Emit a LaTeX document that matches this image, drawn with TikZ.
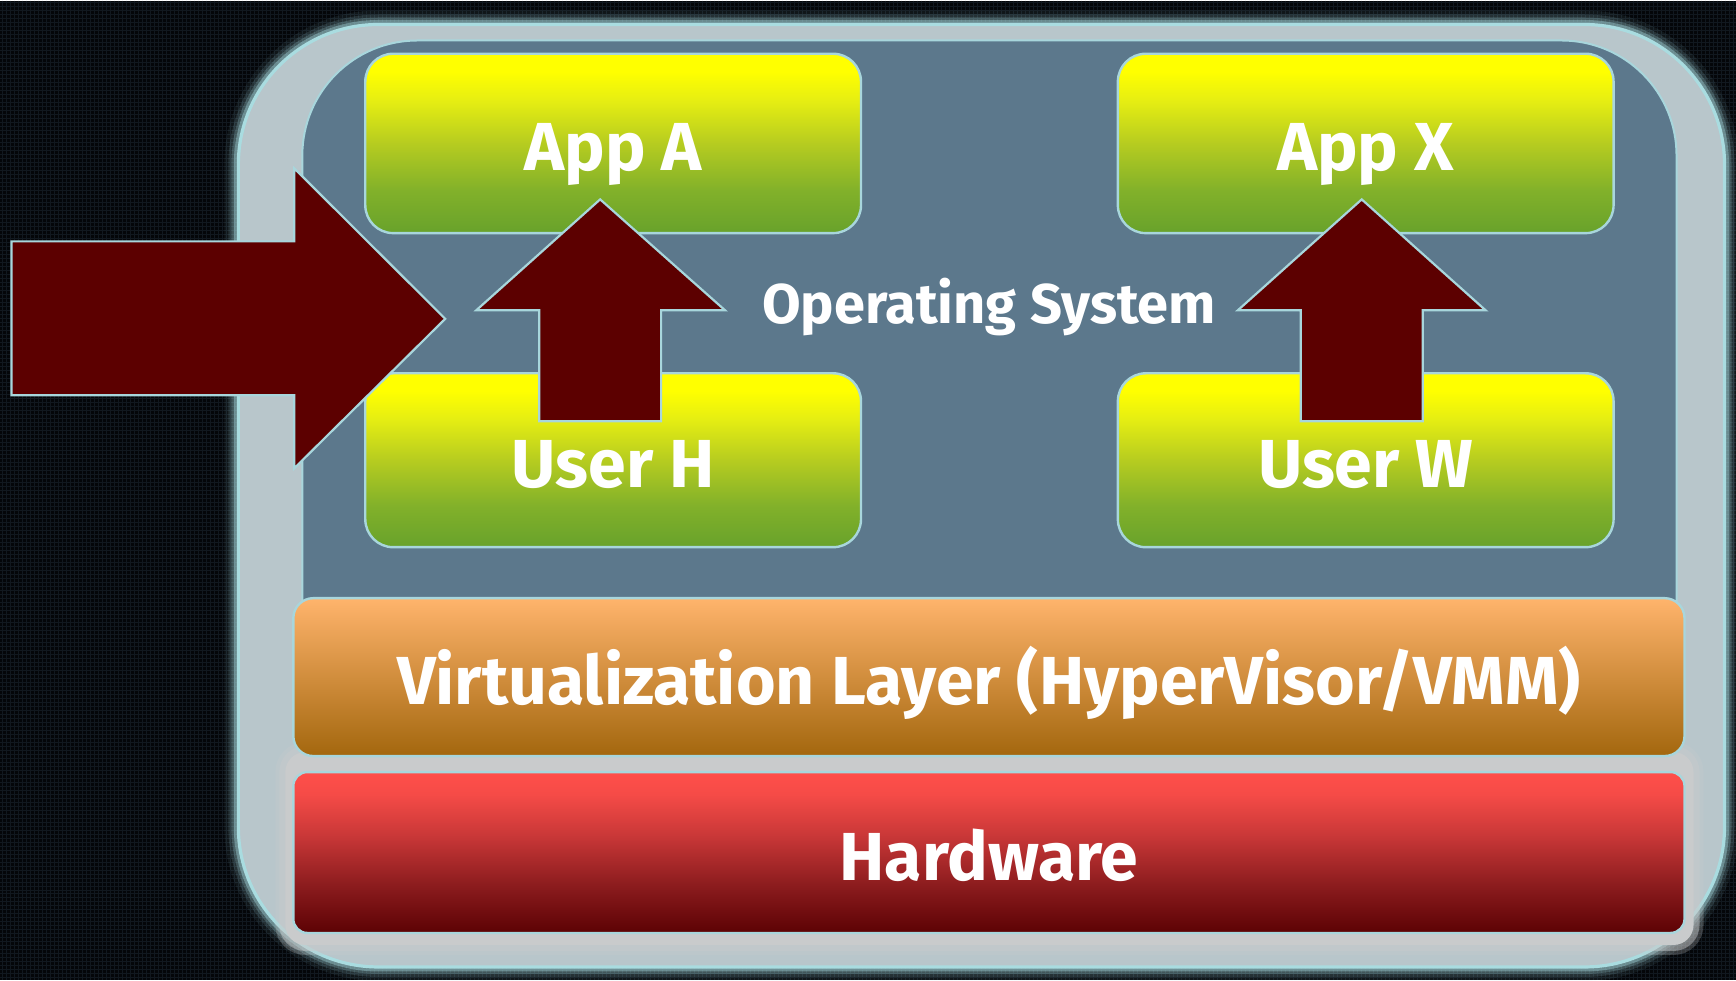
\documentclass[tikz,border=0pt]{standalone}
\usepackage{fontspec}
\newfontfamily\lblfont{Fira Sans}

\definecolor{bgdark}{HTML}{040609}
\definecolor{bggrid}{HTML}{11181F}
\definecolor{framefill}{HTML}{B8C6CB}
\definecolor{frameedge}{HTML}{A9DCE0}
\definecolor{halo}{HTML}{C9CBCC}
\definecolor{panelfill}{HTML}{5C788C}
\definecolor{boxedge}{HTML}{A8D6DC}
\definecolor{arrowfill}{HTML}{5C0000}
\definecolor{appgA}{HTML}{68A22B}
\definecolor{appgB}{HTML}{82B12A}
\definecolor{appgC}{HTML}{B6CC20}
\definecolor{appgD}{HTML}{E6EE12}
\definecolor{appgE}{HTML}{FFFF00}
\definecolor{orgTop}{HTML}{FFB46C}
\definecolor{orgBot}{HTML}{A3670E}
\definecolor{redA}{HTML}{5C0204}
\definecolor{redB}{HTML}{8C1C1E}
\definecolor{redC}{HTML}{C83737}
\definecolor{redD}{HTML}{F54B47}
\definecolor{redE}{HTML}{FF4F4A}

\pgfdeclareverticalshading{appshade}{100bp}{color(0bp)=(appgA); color(25bp)=(appgA); color(37bp)=(appgB); color(50bp)=(appgC); color(62bp)=(appgD); color(70bp)=(appgE); color(100bp)=(appgE)}
\pgfdeclareverticalshading{hwshade}{100bp}{color(0bp)=(redA); color(25bp)=(redA); color(40bp)=(redB); color(55bp)=(redC); color(68bp)=(redD); color(75bp)=(redE); color(100bp)=(redE)}

\tikzset{
  tilebox/.style={draw=boxedge, line width=1.2pt, inner sep=0pt, text=white,
    font=\lblfont\bfseries\fontsize{34}{40}\selectfont, text height=27.5pt, text depth=0pt},
  appbox/.style={tilebox, rounded corners=14pt, shade, shading=appshade,
    minimum width=248pt, minimum height=89.75pt},
  userbox/.style={tilebox, rounded corners=14pt, shade, shading=appshade,
    minimum width=248pt, minimum height=87pt},
  vmmbox/.style={tilebox, rounded corners=10pt, shade, top color=orgTop, bottom color=orgBot,
    minimum width=696pt, minimum height=79pt},
  hwbox/.style={tilebox, rounded corners=7pt, shade, shading=hwshade,
    minimum width=696pt, minimum height=80.5pt},
  blockarrow/.style={fill=arrowfill, draw=boxedge, line width=1.1pt, line join=miter},
  oslabel/.style={text=white, inner sep=0pt, anchor=base,
    font=\lblfont\bfseries\fontsize{28}{34}\selectfont}
}

\begin{document}
\begin{tikzpicture}[x=0.5pt, y=-0.5pt]
  % dark gridded backdrop
  \fill[bgdark] (0,0) rectangle (1736,980);
  \foreach \i in {2,6,...,1736} \draw[bggrid, line width=0.5pt] (\i,0) -- (\i,980);
  \foreach \j in {2,6,...,980} \draw[bggrid, line width=0.5pt] (0,\j) -- (1736,\j);
  \useasboundingbox (0,0) rectangle (1736,980);

  % outer frame with a soft glowing rim
  \foreach \w/\o in {14/0.08, 10/0.14, 7/0.22, 4.5/0.4}
    \draw[frameedge, line width=\w pt, opacity=\o, rounded corners=70pt] (238,24) rectangle (1725,967);
  \draw[fill=framefill, draw=frameedge, line width=1.6pt, rounded corners=70pt] (238,24) rectangle (1725,967);

  % pale halo behind the lower layers
  \foreach \w/\o in {10/0.25, 6/0.45}
    \draw[halo, line width=\w pt, opacity=\o, rounded corners=10pt] (285,752) rectangle (1694,945);
  \fill[halo, rounded corners=10pt] (285,752) rectangle (1694,945);

  % guest panel
  \draw[fill=panelfill, draw=boxedge, line width=1pt, rounded corners=57.5pt] (302,40) rectangle (1677,740);

  % applications and users
  \node[appbox]  (appA)  at (613,143)   {App A};
  \node[appbox]  (appX)  at (1366,143)  {App X};
  \node[userbox] (userH) at (613,460)   {User H};
  \node[userbox] (userW) at (1366,460)  {User W};

  % lower layers
  \node[vmmbox] (vmm) at (989,677)   {Virtualization Layer (HyperVisor/VMM)};
  \node[hwbox]  (hw)  at (989,852.5) {Hardware};

  % block arrows
  \draw[blockarrow] (11,241) -- (294,241) -- (294,168) -- (445,318.5) -- (294,468) -- (294,395) -- (11,395) -- cycle;
  \draw[blockarrow] (539,421) -- (539,310) -- (476,310) -- (600,199) -- (725,310) -- (661,310) -- (661,421) -- cycle;
  \draw[blockarrow] (1301,421) -- (1301,310) -- (1238,310) -- (1362,199) -- (1486,310) -- (1423,310) -- (1423,421) -- cycle;

  \node[oslabel] (os) at (989,323) {Operating System};
\end{tikzpicture}
\end{document}
